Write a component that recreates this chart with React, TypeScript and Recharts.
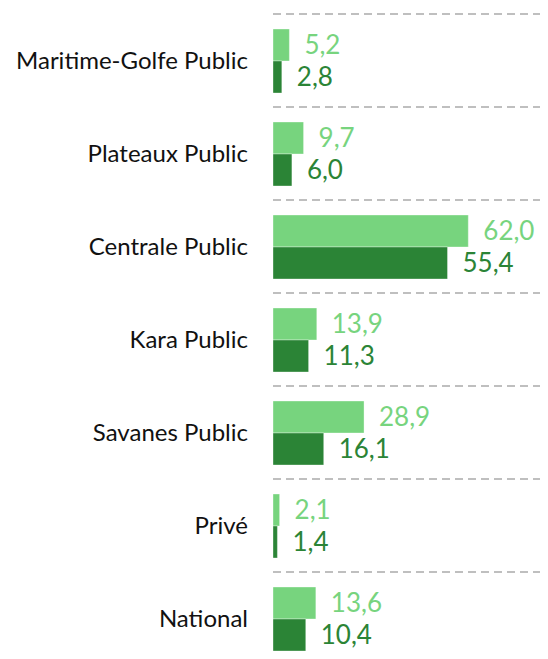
import React from "react";
import { BarChart, Bar, XAxis, YAxis, CartesianGrid, LabelList } from "recharts";

const categories = [
  "Maritime-Golfe Public",
  "Plateaux Public",
  "Centrale Public",
  "Kara Public",
  "Savanes Public",
  "Privé",
  "National",
];
const seriesLight = [5.2, 9.7, 62.0, 13.9, 28.9, 2.1, 13.6];
const seriesDark = [2.8, 6.0, 55.4, 11.3, 16.1, 1.4, 10.4];

const data = categories.map((name, i) => ({ name, a: seriesLight[i], b: seriesDark[i] }));

const LIGHT = "#77D47E";
const DARK = "#2B8436";
const FONT = "Lato, 'Open Sans', sans-serif";

const fmt = (v: any) => Number(v).toFixed(1).replace(".", ",");

export default function App() {
  return (
    <div style={{ fontFamily: FONT }}>
      <BarChart
        layout="vertical"
        width={540}
        height={657}
        data={data}
        margin={{ top: 6, right: 0, bottom: 0, left: 0 }}
        barSize={32}
        barGap={0}
      >
        <CartesianGrid
          vertical={false}
          stroke="#aaaaaa"
          strokeWidth={1.5}
          strokeDasharray="8 5"
          horizontalCoordinatesGenerator={({ offset }: any) => {
            const n = categories.length;
            const out: number[] = [];
            for (let i = 0; i <= n; i++) out.push(offset.top + (i * offset.height) / n);
            return out;
          }}
        />
        <XAxis type="number" hide domain={[0, 87.3]} />
        <YAxis
          type="category"
          dataKey="name"
          width={265}
          axisLine={false}
          tickLine={false}
          tickSize={0}
          tickMargin={25}
          tick={{ fontSize: 24, fill: "#111111", fontFamily: FONT, fontWeight: 400 }}
        />
        <Bar dataKey="a" fill={LIGHT} stroke="rgba(255,255,255,0.35)" isAnimationActive={false}>
          <LabelList
            dataKey="a"
            position="right"
            offset={15}
            formatter={fmt}
            style={{ fill: LIGHT, fontSize: 26, fontFamily: FONT }}
          />
        </Bar>
        <Bar dataKey="b" fill={DARK} stroke="rgba(255,255,255,0.35)" isAnimationActive={false}>
          <LabelList
            dataKey="b"
            position="right"
            offset={15}
            formatter={fmt}
            style={{ fill: DARK, fontSize: 26, fontFamily: FONT }}
          />
        </Bar>
      </BarChart>
    </div>
  );
}
